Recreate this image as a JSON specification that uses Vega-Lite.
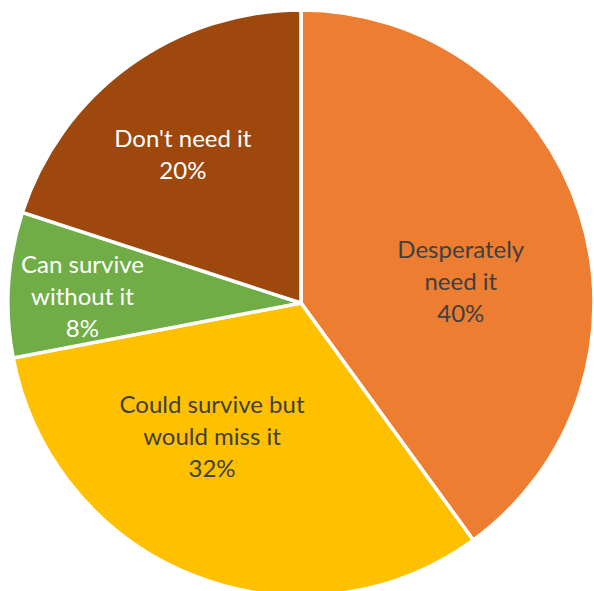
{
  "$schema": "https://vega.github.io/schema/vega-lite/v6.json",
  "width": 602,
  "height": 606,
  "autosize": "none",
  "padding": 0,
  "background": "white",
  "config": {"view": {"stroke": null}},
  "data": {"values": [
    {"category": "Desperately need it", "share": 40, "ord": 1, "label": ["Desperately", "need it", "40%"], "grp": "a"},
    {"category": "Could survive but would miss it", "share": 32, "ord": 2, "label": ["Could survive but", "would miss it", "32%"], "grp": "d"},
    {"category": "Can survive without it", "share": 8, "ord": 3, "label": ["Can survive", "without it", "8%"], "grp": "c"},
    {"category": "Don't need it", "share": 20, "ord": 4, "label": ["Don't need it", "20%"], "grp": "b"}
  ]},
  "transform": [
    {"stack": "share", "groupby": [], "sort": [{"field": "ord", "order": "ascending"}], "as": ["s0", "s1"]},
    {"calculate": "(datum.s0 + datum.s1) / 2", "as": "mid"}
  ],
  "layer": [
    {
      "mark": {"type": "arc", "outerRadius": 293, "stroke": "white", "strokeWidth": 3.5},
      "encoding": {
        "theta": {"field": "s0", "type": "quantitative", "scale": {"domain": [0, 100]}},
        "theta2": {"field": "s1"},
        "color": {
          "field": "category", "type": "nominal", "legend": null,
          "scale": {
            "domain": ["Desperately need it", "Could survive but would miss it", "Can survive without it", "Don't need it"],
            "range": ["#ED7D31", "#FFC000", "#70AD47", "#9E480E"]
          }
        }
      }
    },
    {
      "transform": [{"filter": "datum.grp == 'a'"}],
      "mark": {"type": "text", "radius": 168, "font": "Lato", "fontSize": 24, "lineHeight": 32, "color": "#404040", "baseline": "middle"},
      "encoding": {
        "theta": {"field": "mid", "type": "quantitative", "scale": {"domain": [0, 100]}},
        "text": {"field": "label"}
      }
    },
    {
      "transform": [{"filter": "datum.grp == 'd'"}],
      "mark": {"type": "text", "radius": 163, "dx": -29, "dy": -49, "font": "Lato", "fontSize": 24, "lineHeight": 32, "color": "#404040", "baseline": "middle"},
      "encoding": {
        "theta": {"field": "mid", "type": "quantitative", "scale": {"domain": [0, 100]}},
        "text": {"field": "label"}
      }
    },
    {
      "transform": [{"filter": "datum.grp == 'b'"}],
      "mark": {"type": "text", "radius": 201, "font": "Lato", "fontSize": 24, "lineHeight": 32, "color": "white", "baseline": "middle"},
      "encoding": {
        "theta": {"field": "mid", "type": "quantitative", "scale": {"domain": [0, 100]}},
        "text": {"field": "label"}
      }
    },
    {
      "transform": [{"filter": "datum.grp == 'c'"}],
      "mark": {"type": "text", "radius": 222, "dx": 3, "dy": -23, "font": "Lato", "fontSize": 24, "lineHeight": 32, "color": "white", "baseline": "middle"},
      "encoding": {
        "theta": {"field": "mid", "type": "quantitative", "scale": {"domain": [0, 100]}},
        "text": {"field": "label"}
      }
    }
  ]
}
